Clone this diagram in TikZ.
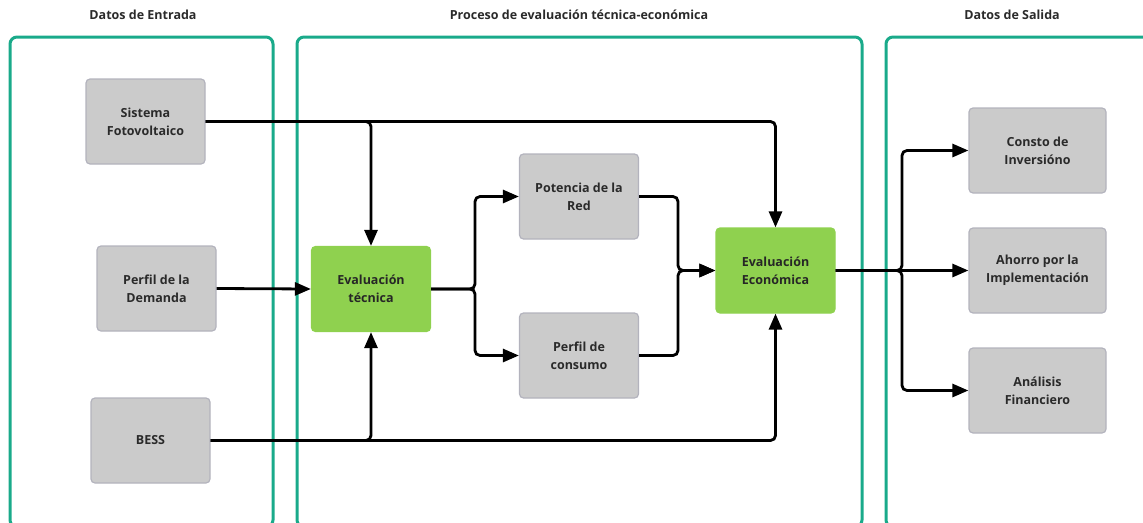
\documentclass[tikz,border=0pt]{standalone}
\usepackage{fontspec}
\setmainfont{Open Sans}
\usepackage{xcolor}
\usepackage{tikz}
\usetikzlibrary{arrows.meta,calc}
\definecolor{frame}{HTML}{1AAA8A}
\definecolor{boxgray}{HTML}{CBCBCB}
\definecolor{boxedge}{HTML}{B3B3BD}
\definecolor{evalgreen}{HTML}{8FD14F}
\definecolor{ink}{HTML}{2A2A2A}
\tikzset{
  group/.style={draw=frame, line width=3pt, rounded corners=7pt},
  title/.style={font=\bfseries\fontsize{12.5}{15}\selectfont, text=ink},
  databox/.style={rectangle, rounded corners=4pt, fill=boxgray, draw=boxedge, line width=1.2pt,
    minimum width=119pt, minimum height=85pt, inner sep=0pt, align=center,
    font=\bfseries\fontsize{12.5}{18}\selectfont, text=ink},
  outbox/.style={databox, minimum width=137pt},
  evalbox/.style={databox, fill=evalgreen, draw=evalgreen, text=black!85},
  link/.style={-{Triangle[length=16pt,width=13pt]}, line width=2.8pt, draw=black, rounded corners=5pt}
}

\begin{document}
\begin{tikzpicture}[x=1pt, y=-1pt]
  \clip (0,0) rectangle (1143,522);
  % three groups, they run off the page at the bottom
  \draw[group] (10,37) rectangle (273,527);
  \draw[group] (297,37) rectangle (862,527);
  \draw[group] (886,37) rectangle (1170,527);
  \node[title] at (143,15) {Datos de Entrada};
  \node[title] at (579,15) {Proceso de evaluación técnica-económica};
  \node[title] at (1012,15) {Datos de Salida};

  % inputs
  \node[databox] (pv) at (145.5,121.5) {Sistema\\Fotovoltaico};
  \node[databox] (dem) at (156.5,288.5) {Perfil de la\\Demanda};
  \node[databox] (bess) at (150.5,440.5) {BESS};

  % process
  \node[evalbox] (tec) at (371,289) {Evaluación\\técnica};
  \node[databox] (red) at (579,196.5) {Potencia de la\\Red};
  \node[databox] (cons) at (579,355.5) {Perfil de\\consumo};
  \node[evalbox] (eco) at (775.5,270.5) {Evaluación\\Económica};

  % outputs
  \node[outbox] (inv) at (1037.5,150.5) {Consto de\\Inversióno};
  \node[outbox] (aho) at (1037.5,270.5) {Ahorro por la\\Implementación};
  \node[outbox] (fin) at (1037.5,390.5) {Análisis\\Financiero};

  \coordinate (split) at (475,289);
  \coordinate (merge) at (678,270.5);
  \coordinate (fan) at (902,270.5);

  \draw[link] (pv.east) -| (tec.north);
  \draw[link] (pv.east) -| (eco.north);
  \draw[link] (dem.east) -- (tec.west);
  \draw[link] (bess.east) -| (tec.south);
  \draw[link] (bess.east) -| (eco.south);

  \draw[link] (tec.east) -- (split) |- (red.west);
  \draw[link] (tec.east) -- (split) |- (cons.west);
  \draw[link] (red.east) -| (merge) -- (eco.west);
  \draw[link] (cons.east) -| (merge) -- (eco.west);

  \draw[link] (eco.east) -- (fan) |- (inv.west);
  \draw[link] (eco.east) -- (aho.west);
  \draw[link] (eco.east) -- (fan) |- (fin.west);
\end{tikzpicture}
\end{document}
